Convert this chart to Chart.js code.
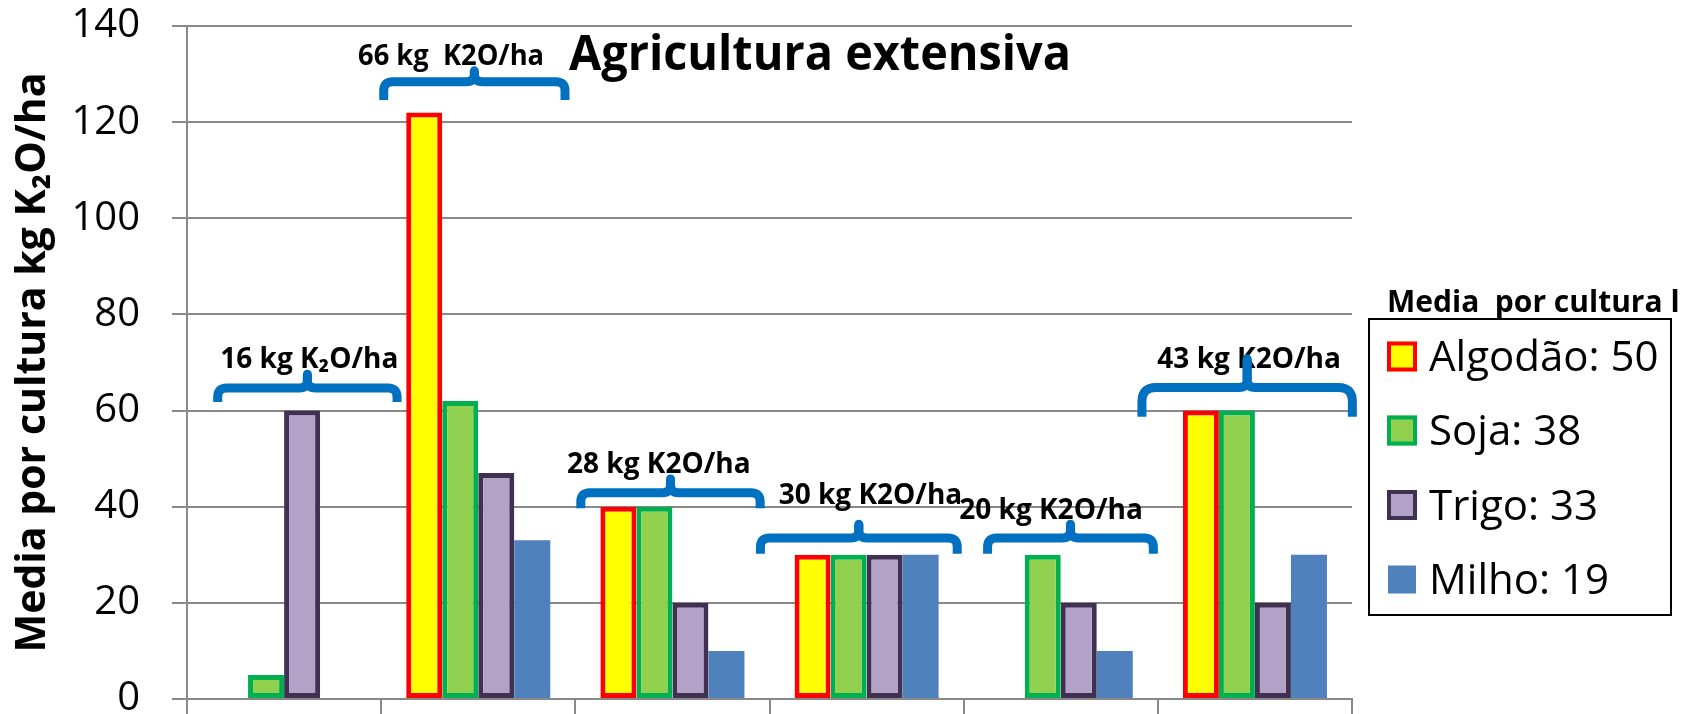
<!DOCTYPE html>
<html>
<head>
<meta charset="utf-8">
<script src="https://cdn.jsdelivr.net/npm/chart.js@4.4.1/dist/chart.umd.min.js"></script>
<style>
  html, body { margin: 0; padding: 0; background: #ffffff; }
  #wrap { width: 1705px; height: 714px; position: relative; }
</style>
</head>
<body>
<div id="wrap"><canvas id="chart" width="1705" height="714"></canvas></div>
<script>
// ---------- data ----------
const categories = ['Grupo 1', 'Grupo 2', 'Grupo 3', 'Grupo 4', 'Grupo 5', 'Grupo 6'];
const algodao = [null, 122, 40, 30, null, 60];
const soja    = [5, 62, 40, 30, 30, 60];
const trigo   = [60, 47, 20, 30, 20, 20];
const milho   = [null, 33, 10, 30, 10, 30];
const seriesNames = ['Algodão', 'Soja', 'Trigo', 'Milho'];
const seriesMeans = [50, 38, 33, 19];
const yMin = 0, yMax = 140, yStep = 20;
const groupLabels = ['16 kg K\u2082O/ha', '66 kg  K2O/ha', '28 kg K2O/ha', '30 kg K2O/ha', '20 kg K2O/ha', '43 kg K2O/ha'];
const chartTitle = 'Agricultura extensiva';
const yTitle = 'Media por cultura kg K\u2082O/ha';
const legendTitle = 'Media  por cultura l';

// brace annotations (category-relative offsets, value-level y positions)
const braces = [
  { dx: 0.12, w: 0.97, bar: 64.7, end: 61.8, tip: 68.4, lx: 0.13, ly: 68.9, r: 9 },
  { dx: -0.02, w: 0.98, bar: 128.4, end: 124.6, tip: 131.5, lx: -0.14, ly: 131.9, r: 9 },
  { dx: -0.01, w: 0.97, bar: 42.9, end: 39.7, tip: 46.6, lx: -0.07, ly: 47.0, r: 9 },
  { dx: -0.04, w: 1.06, bar: 33.5, end: 30.2, tip: 37.2, lx: 0.02, ly: 40.6, r: 9 },
  { dx: 0.05, w: 0.90, bar: 33.5, end: 30.2, tip: 37.2, lx: -0.05, ly: 37.4, r: 9 },
  { dx: -0.04, w: 1.13, bar: 64.8, end: 58.7, tip: 71.6, lx: -0.03, ly: 68.8, r: 14 }
];

const FONT = '"Open Sans", "Noto Sans", "DejaVu Sans", sans-serif';

const bracePlugin = {
  id: 'braces',
  afterDatasetsDraw(chart) {
    const ctx = chart.ctx;
    const xs = chart.scales.x, ys = chart.scales.y;
    const cw = xs.getPixelForValue(1) - xs.getPixelForValue(0);
    ctx.save();
    braces.forEach((b, i) => {
      const c = xs.getPixelForValue(i);
      // label
      ctx.fillStyle = '#000000';
      ctx.font = 'bold 28px ' + FONT;
      ctx.textAlign = 'center';
      ctx.textBaseline = 'alphabetic';
      ctx.fillText(groupLabels[i], c + b.lx * cw, ys.getPixelForValue(b.ly), 186);
      // brace
      const xm = c + b.dx * cw;
      const x0 = xm - b.w * cw / 2 + 4.5, x1 = xm + b.w * cw / 2 - 4.5;
      const yb = ys.getPixelForValue(b.bar);
      const ye = ys.getPixelForValue(b.end);
      const yt = ys.getPixelForValue(b.tip) + 4;
      const r = b.r;
      ctx.strokeStyle = '#0070C0';
      ctx.lineWidth = 9;
      ctx.lineCap = 'butt';
      ctx.lineJoin = 'round';
      ctx.beginPath();
      ctx.moveTo(x0, ye);
      ctx.lineTo(x0, yb + r);
      ctx.quadraticCurveTo(x0, yb, x0 + r, yb);
      ctx.lineTo(xm - 8, yb);
      ctx.quadraticCurveTo(xm, yb, xm, yb - 8);
      ctx.lineTo(xm, yt);
      ctx.moveTo(xm, yb - 8);
      ctx.quadraticCurveTo(xm, yb, xm + 8, yb);
      ctx.lineTo(x1 - r, yb);
      ctx.quadraticCurveTo(x1, yb, x1, yb + r);
      ctx.lineTo(x1, ye);
      ctx.stroke();
      ctx.beginPath();
      ctx.lineCap = 'round';
      ctx.moveTo(xm, yb - 8);
      ctx.lineTo(xm, yt);
      ctx.stroke();
    });
    // title
    ctx.fillStyle = '#000000';
    ctx.font = 'bold 49px ' + FONT;
    ctx.textAlign = 'center';
    ctx.textBaseline = 'alphabetic';
    ctx.fillText(chartTitle, 820, 70, 502);
    ctx.restore();
  }
};

const legendPlugin = {
  id: 'customLegend',
  afterDraw(chart) {
    const ctx = chart.ctx;
    ctx.save();
    ctx.fillStyle = '#000000';
    ctx.font = 'bold 30px ' + FONT;
    ctx.textAlign = 'left';
    ctx.textBaseline = 'alphabetic';
    ctx.fillText(legendTitle, 1387, 312, 302);
    ctx.fillStyle = '#ffffff';
    ctx.fillRect(1369, 319, 302, 296);
    ctx.strokeStyle = '#000000';
    ctx.lineWidth = 2;
    ctx.strokeRect(1369, 319, 302, 296);
    const rows = [356.5, 430.5, 505, 579.5];
    chart.data.datasets.forEach((ds, i) => {
      const cy = rows[i];
      const bw = ds.borderWidth || 0;
      const s = bw ? 30 : 28;
      const x = bw ? 1387 : 1388;
      ctx.fillStyle = ds.backgroundColor;
      ctx.fillRect(x, cy - s / 2, s, s);
      if (bw) {
        ctx.strokeStyle = ds.borderColor;
        ctx.lineWidth = 4;
        ctx.strokeRect(x + 2, cy - s / 2 + 2, s - 4, s - 4);
      }
      ctx.fillStyle = '#000000';
      ctx.font = '42px ' + FONT;
      ctx.fillText(seriesNames[i] + ': ' + seriesMeans[i], 1429, cy + 14.5, 236);
    });
    ctx.restore();
  }
};

Chart.defaults.font.family = FONT;
Chart.defaults.color = '#000000';

new Chart(document.getElementById('chart'), {
  type: 'bar',
  data: {
    labels: categories,
    datasets: [
      { label: seriesNames[0], data: algodao, backgroundColor: '#FFFF00', borderColor: '#FF0000', borderWidth: 5, borderSkipped: false },
      { label: seriesNames[1], data: soja, backgroundColor: '#92D050', borderColor: '#00B050', borderWidth: 5, borderSkipped: false },
      { label: seriesNames[2], data: trigo, backgroundColor: '#B3A2C7', borderColor: '#403152', borderWidth: 5, borderSkipped: false },
      { label: seriesNames[3], data: milho, backgroundColor: '#4F81BD', borderColor: '#4F81BD', borderWidth: 0 }
    ]
  },
  options: {
    responsive: false,
    animation: false,
    layout: { padding: { left: 0, right: 353, top: 26, bottom: 0 } },
    datasets: { bar: { categoryPercentage: 0.742, barPercentage: 1.0 } },
    plugins: {
      legend: { display: false },
      title: { display: false },
      tooltip: { enabled: false }
    },
    scales: {
      x: {
        offset: true,
        ticks: { display: false },
        grid: { offset: true, drawOnChartArea: false, drawTicks: true, tickLength: 15, color: '#898989', lineWidth: 2 },
        border: { display: true, color: '#898989', width: 2 },
        afterFit(scale) { scale.height = 15; scale.paddingLeft = 0; scale.paddingRight = 0; }
      },
      y: {
        min: yMin, max: yMax,
        ticks: { stepSize: yStep, padding: 32, font: { size: 40 }, color: '#000000' },
        grid: { color: '#898989', lineWidth: 2, tickLength: 15, drawTicks: true },
        border: { display: true, color: '#898989', width: 2 },
        title: { display: true, text: yTitle, font: { size: 41, weight: 'bold' }, color: '#000000', padding: { top: 9, bottom: 0 } },
        afterFit(scale) { scale.width = 187; scale.paddingTop = 0; scale.paddingBottom = 0; }
      }
    }
  },
  plugins: [bracePlugin, legendPlugin]
});
</script>
</body>
</html>
